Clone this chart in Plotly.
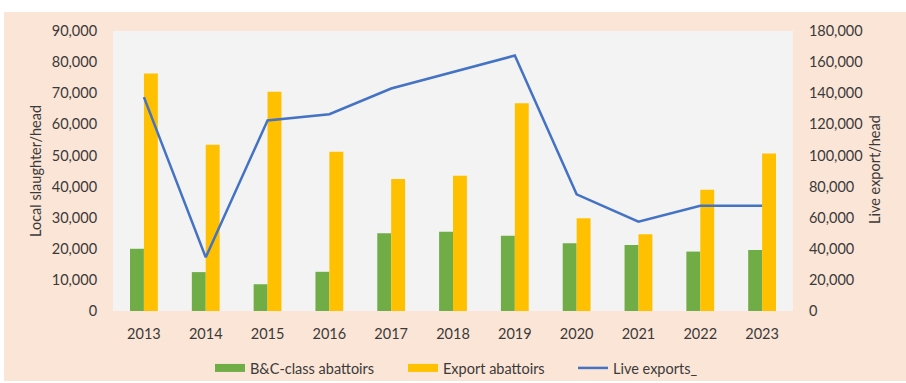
import plotly.graph_objects as go

# Annual cattle slaughter and live export figures
years = ["2013", "2014", "2015", "2016", "2017", "2018",
         "2019", "2020", "2021", "2022", "2023"]
bc_class_abattoirs = [20000, 12500, 8600, 12600, 25000, 25500,
                      24200, 21800, 21200, 19100, 19600]
export_abattoirs = [76300, 53400, 70500, 51200, 42400, 43500,
                    66800, 29800, 24700, 39000, 50600]
live_exports = [137500, 34500, 122500, 126500, 143000, 153800,
                164200, 75000, 57400, 67700, 67700]

left_ticks = list(range(0, 90001, 10000))
right_ticks = list(range(0, 180001, 20000))

FONT = "Lato"
TEXT = "#3a3a3a"
PEACH = "#fbe5d6"
PLOT_BG = "#f3f3f3"
GREEN = "#70ad47"
GOLD = "#ffc000"
BLUE = "#4472c4"
TICK_SIZE = 14.5
TITLE_SIZE = 14.5

W, H = 906, 383
L, R, T, B = 113, 113, 31, 72
pw, ph = W - L - R, H - T - B


def px_x(x):
    return (x - L) / pw


def px_y(y):
    return (H - B - y) / ph


fig = go.Figure()
fig.add_trace(go.Bar(x=years, y=bc_class_abattoirs, name="B&C-class abattoirs",
                     legendgroup="bc", showlegend=False,
                     marker=dict(color=GREEN, line=dict(width=0))))
fig.add_trace(go.Bar(x=years, y=export_abattoirs, name="Export abattoirs",
                     legendgroup="exp", showlegend=False,
                     marker=dict(color=GOLD, line=dict(width=0))))
fig.add_trace(go.Scatter(x=years, y=live_exports, name="Live exports_",
                         mode="lines", yaxis="y2", legendgroup="live",
                         showlegend=False,
                         line=dict(color=BLUE, width=2.5)))

# Legend keys drawn as wide flat swatches, tied to the series above;
# each key sits in its own legend so the spacing can be set freely
legend_keys = [
    ("B&C-class abattoirs", GREEN, 8, "bc", "legend", 210),
    ("Export abattoirs", GOLD, 8, "exp", "legend2", 403),
    ("Live exports_", BLUE, 2.5, "live", "legend3", 573),
]
legend_layout = {}
for name, color, width, group, legend_id, left_px in legend_keys:
    fig.add_trace(go.Scatter(x=[None], y=[None], mode="lines", name=name,
                             legendgroup=group, showlegend=True,
                             legend=legend_id, hoverinfo="skip",
                             line=dict(color=color, width=width)))
    legend_layout[legend_id] = dict(
        orientation="h", x=px_x(left_px), xanchor="left",
        y=px_y(368), yanchor="middle", bgcolor="rgba(0,0,0,0)",
        font=dict(size=TICK_SIZE, color=TEXT), itemwidth=30,
    )

fig.update_layout(
    width=W, height=H,
    margin=dict(l=L, r=R, t=T, b=B, autoexpand=False),
    paper_bgcolor="white",
    plot_bgcolor="rgba(0,0,0,0)",
    font=dict(family=FONT, size=TICK_SIZE, color=TEXT),
    barmode="group",
    bargap=0.55,
    bargroupgap=0,
    showlegend=True,
    **legend_layout,
    xaxis=dict(type="category", range=[-0.5, 10.5], showgrid=False,
               zeroline=False, showline=False, ticks="outside",
               ticklen=10, tickcolor="rgba(0,0,0,0)"),
    yaxis=dict(range=[0, 90000], tickvals=left_ticks, tickformat=",",
               showgrid=False, zeroline=False, showline=False,
               ticks="outside", ticklen=12, tickcolor="rgba(0,0,0,0)"),
    yaxis2=dict(range=[0, 180000], tickvals=right_ticks, tickformat=",",
                overlaying="y", side="right", showgrid=False,
                zeroline=False, showline=False,
                ticks="outside", ticklen=12, tickcolor="rgba(0,0,0,0)"),
    shapes=[
        dict(type="rect", xref="paper", yref="paper", layer="below",
             x0=px_x(4), x1=px_x(W + 5), y0=px_y(381), y1=px_y(12),
             fillcolor=PEACH, line=dict(width=0)),
        dict(type="rect", xref="paper", yref="paper", layer="below",
             x0=0, x1=1, y0=0, y1=1,
             fillcolor=PLOT_BG, line=dict(width=0)),
    ],
    annotations=[
        dict(text="Local slaughter/head", xref="paper", yref="paper",
             x=px_x(35), y=px_y(171), textangle=-90, showarrow=False,
             font=dict(size=TITLE_SIZE, color=TEXT),
             xanchor="center", yanchor="middle"),
        dict(text="Live export/head", xref="paper", yref="paper",
             x=px_x(874), y=px_y(170), textangle=-90, showarrow=False,
             font=dict(size=TITLE_SIZE, color=TEXT),
             xanchor="center", yanchor="middle"),
    ],
)

fig.write_html("out.html")
